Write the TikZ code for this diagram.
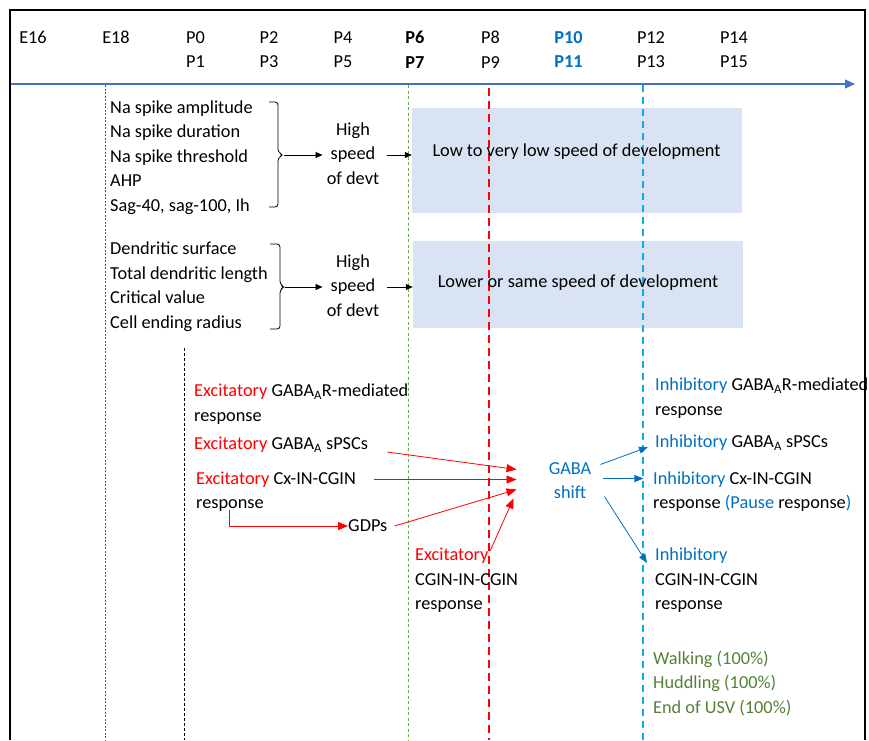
\documentclass[tikz,border=0pt]{standalone}
\usepackage{fontspec}
\setmainfont{Carlito}
\usetikzlibrary{arrows.meta,calc}
\definecolor{exred}{HTML}{FF0000}
\definecolor{inblue}{HTML}{0070C0}
\definecolor{axblue}{HTML}{4472C4}
\definecolor{lnblue}{HTML}{00B0F0}
\definecolor{grn}{HTML}{548235}
\definecolor{lngrn}{HTML}{70AD47}
\definecolor{boxfill}{HTML}{DAE3F3}
\begin{document}
\begin{tikzpicture}[x=1pt,y=-1pt,
  font=\fontsize{18.3}{24.5}\selectfont,
  txt/.style={inner sep=0pt, align=left, anchor=west},
  hdr/.style={inner sep=0pt, align=center},
  devbox/.style={fill=boxfill, draw=none, minimum width=330pt, inner sep=0pt},
  blk/.style={-{Triangle[length=7pt,width=6pt]}, line width=0.8pt},
  rarr/.style={exred, line width=0.8pt, -{Triangle[length=10pt,width=8pt]}},
  barr/.style={inblue, line width=0.8pt, -{Triangle[length=9pt,width=7pt]}},
  bracepath/.style={line width=0.8pt, rounded corners=3pt},
]
\useasboundingbox (0,0) rectangle (869,740);

% development boxes
\node[devbox, minimum height=105pt] (b1) at (577,160.5) {};
\node[devbox, minimum height=87pt] (b2) at (578,284.5) {};

% axis
\coordinate (axL) at (10,84);
\coordinate (axR) at (855,84);
\draw[axblue, line width=1.2pt, -{Triangle[length=10pt,width=9pt]}] (axL) -- (axR);

% vertical timeline lines
\coordinate (e18t) at (105,85);  \coordinate (e18b) at (105,740);
\coordinate (p0t) at (184,348);  \coordinate (p0b) at (184,740);
\coordinate (gt) at (408,85);    \coordinate (gb) at (408,740);
\coordinate (rt) at (489,88);    \coordinate (rb) at (489,740);
\coordinate (bt) at (643,85);    \coordinate (bb) at (643,740);
\draw[black!65, line width=0.9pt, dash pattern=on 2pt off 1.5pt] (e18t) -- (e18b);
\draw[black, line width=0.9pt, dash pattern=on 3pt off 2pt] (p0t) -- (p0b);
\draw[lngrn, line width=0.9pt, dash pattern=on 3pt off 2.5pt] (gt) -- (gb);
\draw[exred, line width=1.8pt, dash pattern=on 8pt off 5pt] (rt) -- (rb);
\draw[lnblue, line width=1.6pt, dash pattern=on 7pt off 5pt] (bt) -- (bb);

% header
\node[hdr] (hE16) at (33,37) {E16};
\node[hdr] (hE18) at (116,37) {E18};
\node[hdr] (hP0) at (195.5,49.5) {P0\\P1};
\node[hdr] (hP2) at (269,49.5) {P2\\P3};
\node[hdr] (hP4) at (343,49.5) {P4\\P5};
\node[hdr, font=\fontsize{18.3}{24.5}\selectfont\bfseries] (hP6) at (415,49.5) {P6\\P7};
\node[hdr] (hP8) at (490.5,49.5) {P8\\P9};
\node[hdr, text=inblue, font=\fontsize{18.3}{24.5}\selectfont\bfseries] (hP10) at (568.5,49.5) {P10\\P11};
\node[hdr] (hP12) at (651,49.5) {P12\\P13};
\node[hdr] (hP14) at (734,49.5) {P14\\P15};

% block 1
\node[txt] (l1) at (110,157.5) {Na spike amplitude\\Na spike duration\\Na spike threshold\\AHP\\Sag-40, sag-100, Ih};
\draw[bracepath] (269,102) -- (278,102) -- (278,152) -- (283,155) -- (278,158) -- (278,207) -- (269,207);
\coordinate (br1) at (284,155);
\node[hdr, inner sep=4pt] (hs1) at (353,153.5) {High\\speed\\of devt};
\draw[blk] (br1) -- (hs1.west |- br1);
\draw[blk, shorten <=4pt] (hs1.east |- br1) -- (b1.west |- br1);
\node[hdr] (t1) at (576.5,152) {Low to very low speed of development};

% block 2
\node[txt] (l2) at (110,286.5) {Dendritic surface\\Total dendritic length\\Critical value\\Cell ending radius};
\draw[bracepath] (270,244) -- (280,244) -- (280,284) -- (284,287) -- (280,290) -- (280,329) -- (270,329);
\coordinate (br2) at (285,287);
\node[hdr, inner sep=4pt] (hs2) at (353,285.5) {High\\speed\\of devt};
\draw[blk] (br2) -- (hs2.west |- br2);
\draw[blk, shorten <=4pt] (hs2.east |- br2) -- (b2.west |- br2);
\node[hdr] (t2) at (578,283) {Lower or same speed of development};

% excitatory side
\node[txt] (exA) at (194,404) {{\color{exred}Excitatory} GABA\textsubscript{A}R-mediated\\response};
\node[txt] (exB) at (194,445) {{\color{exred}Excitatory} GABA\textsubscript{A} sPSCs};
\node[txt] (exC) at (196,491.5) {{\color{exred}Excitatory} Cx-IN-CGIN\\response};
\node[txt] (gdp) at (348,526) {GDPs};
\node[txt] (exD) at (415,580.5) {{\color{exred}Excitatory}\\CGIN-IN-CGIN\\response};
\node[hdr, text=inblue] (gaba) at (570,480.5) {GABA\\shift};

\coordinate (gin1) at ($(gaba.west)+(-32,-11)$);
\coordinate (gin2) at ($(gaba.west)+(-32,-1)$);
\coordinate (gin3) at ($(gaba.west)+(-32,9)$);
\coordinate (gin4) at ($(gaba.west)+(-35,18)$);
\coordinate (exCr) at ($(exC.north east)+(18,0)$);
\draw[rarr] ($(exB.east)+(19,7)$) -- (gin1);
\draw[rarr] (exCr |- gin2) -- (gin2);
\draw[rarr] ($(gdp.east)+(7,0)$) -- (gin3);
\draw[rarr] ($(exD.north west)+(75,3)$) -- (gin4);
\draw[rarr] ($(exC.south west)+(33,-2)$) |- (gdp.west);

% inhibitory side
\node[txt] (inA) at (655,398) {{\color{inblue}Inhibitory} GABA\textsubscript{A}R-mediated\\response};
\node[txt] (inB) at (655,443) {{\color{inblue}Inhibitory} GABA\textsubscript{A} sPSCs};
\node[txt] (inC) at (653,491.5) {{\color{inblue}Inhibitory} Cx-IN-CGIN\\response {\color{inblue}(Pause} response{\color{inblue})}};
\node[txt] (inD) at (655,580.5) {{\color{inblue}Inhibitory}\\CGIN-IN-CGIN\\response};
\node[txt, text=grn] (beh) at (653,683.5) {Walking (100\%)\\Huddling (100\%)\\End of USV (100\%)};

\draw[barr] ($(gaba.east)+(9,-16)$) -- ($(inB.west)+(-7,4)$);
\draw[barr] ($(gaba.east)+(12,-2)$) -- ($(gaba.east)+(52,-2)$);
\draw[barr] ($(gaba.east)+(13,16)$) -- ($(inD.north west)+(-8,15)$);

% frame
\coordinate (fbl) at (10,740); \coordinate (ftl) at (10,10);
\coordinate (ftr) at (865,10); \coordinate (fbr) at (865,740);
\draw[line width=1.5pt] (fbl) -- (ftl) -- (ftr) -- (fbr);
\end{tikzpicture}
\end{document}
